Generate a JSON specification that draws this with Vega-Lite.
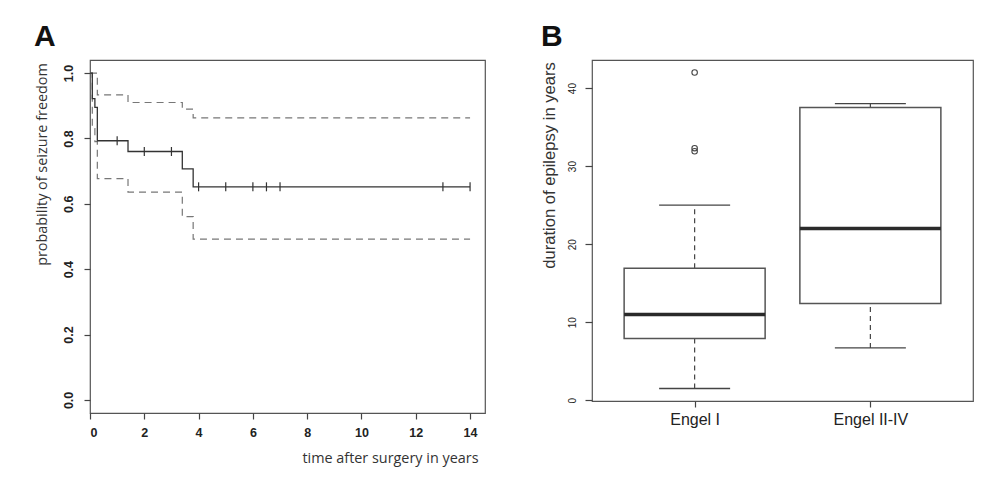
{
  "$schema": "https://vega.github.io/schema/vega-lite/v6.json",
  "background": "white",
  "padding": {"left": 33, "top": 21, "right": 5, "bottom": 5},
  "spacing": 54,
  "config": {
    "view": {"stroke": "#555", "strokeWidth": 1.2},
    "axis": {"domain": false, "grid": false, "tickColor": "#444", "tickWidth": 1.2, "labelColor": "#222", "titleColor": "#333", "titleFontWeight": "normal"}
  },
  "datasets": {
    "km": [
      {"series": "est", "t": 0, "s": 1.0},
      {"series": "est", "t": 0.085, "s": 0.922},
      {"series": "est", "t": 0.18, "s": 0.895},
      {"series": "est", "t": 0.27, "s": 0.793},
      {"series": "est", "t": 1.4, "s": 0.760},
      {"series": "est", "t": 3.4, "s": 0.707},
      {"series": "est", "t": 3.8, "s": 0.652},
      {"series": "est", "t": 14, "s": 0.652}
    ],
    "ci": [
      {"series": "upper", "t": 0, "s": 1.0},
      {"series": "upper", "t": 0.27, "s": 0.933},
      {"series": "upper", "t": 1.4, "s": 0.910},
      {"series": "upper", "t": 3.4, "s": 0.890},
      {"series": "upper", "t": 3.8, "s": 0.863},
      {"series": "upper", "t": 14, "s": 0.863},
      {"series": "lower", "t": 0, "s": 1.0},
      {"series": "lower", "t": 0.085, "s": 0.83},
      {"series": "lower", "t": 0.18, "s": 0.79},
      {"series": "lower", "t": 0.27, "s": 0.677},
      {"series": "lower", "t": 1.4, "s": 0.636},
      {"series": "lower", "t": 3.4, "s": 0.561},
      {"series": "lower", "t": 3.8, "s": 0.492},
      {"series": "lower", "t": 14, "s": 0.492}
    ],
    "censor": [
      {"t": 1, "s": 0.793},
      {"t": 2, "s": 0.760},
      {"t": 3, "s": 0.760},
      {"t": 4, "s": 0.652},
      {"t": 5, "s": 0.652},
      {"t": 6, "s": 0.652},
      {"t": 6.5, "s": 0.652},
      {"t": 7, "s": 0.652},
      {"t": 13, "s": 0.652},
      {"t": 14, "s": 0.652}
    ],
    "box": [
      {"group": "Engel I", "lo": 1.5, "q1": 7.9, "median": 11.0, "q3": 16.9, "hi": 25.0},
      {"group": "Engel II-IV", "lo": 6.7, "q1": 12.4, "median": 22.0, "q3": 37.5, "hi": 38.0}
    ],
    "outliers": [
      {"group": "Engel I", "value": 42.0},
      {"group": "Engel I", "value": 32.3},
      {"group": "Engel I", "value": 31.9}
    ]
  },
  "hconcat": [
    {
      "width": 395,
      "height": 353,
      "title": {"text": "A", "anchor": "start", "frame": "bounds", "font": "Liberation Sans", "fontSize": 30, "fontWeight": "bold", "color": "#111", "offset": 8},
      "layer": [
        {
          "data": {"name": "ci"},
          "mark": {"type": "line", "interpolate": "step-after", "strokeDash": [7, 5], "color": "#777", "strokeWidth": 1.2},
          "encoding": {
            "x": {"field": "t", "type": "quantitative", "scale": {"domain": [0, 14.55], "nice": false, "zero": false},
              "axis": {"title": "time after surgery in years", "values": [0, 2, 4, 6, 8, 10, 12, 14], "tickSize": 6, "labelFont": "Liberation Sans", "labelFontWeight": "bold", "labelFontSize": 12.5, "labelPadding": 7, "titleFont": "Open Sans", "titleFontSize": 14.4, "titleAlign": "right", "titleAnchor": "end", "titleX": 388, "titleY": 49, "titleBaseline": "alphabetic"}},
            "y": {"field": "s", "type": "quantitative", "scale": {"domain": [-0.04, 1.04], "nice": false, "zero": false},
              "axis": {"title": "probability of seizure freedom", "values": [0, 0.2, 0.4, 0.6, 0.8, 1.0], "format": ".1f", "tickSize": 6, "labelAngle": 270, "labelAlign": "center", "labelBaseline": "bottom", "labelFont": "Liberation Sans", "labelFontWeight": "bold", "labelFontSize": 12.5, "labelPadding": 9, "titleFont": "Open Sans", "titleFontSize": 14.4, "titleAngle": 270, "titleAlign": "center", "titleBaseline": "middle", "titleX": -48, "titleY": 104}},
            "detail": {"field": "series"}
          }
        },
        {
          "data": {"name": "km"},
          "mark": {"type": "line", "interpolate": "step-after", "color": "#333", "strokeWidth": 1.3},
          "encoding": {
            "x": {"field": "t", "type": "quantitative", "title": "time after surgery in years"},
            "y": {"field": "s", "type": "quantitative", "title": "probability of seizure freedom"}
          }
        },
        {
          "data": {"name": "censor"},
          "mark": {"type": "tick", "orient": "vertical", "color": "#333", "opacity": 1, "size": 9, "thickness": 1.2},
          "encoding": {
            "x": {"field": "t", "type": "quantitative", "title": "time after surgery in years"},
            "y": {"field": "s", "type": "quantitative", "title": "probability of seizure freedom"}
          }
        }
      ]
    },
    {
      "width": 381,
      "height": 341,
      "title": {"text": "B", "anchor": "start", "frame": "bounds", "font": "Liberation Sans", "fontSize": 30, "fontWeight": "bold", "color": "#111", "offset": 8},
      "layer": [
        {
          "data": {"name": "box"},
          "mark": {"type": "rule", "strokeDash": [5, 4], "color": "#444", "strokeWidth": 1.2},
          "encoding": {
            "x": {"field": "group", "type": "nominal", "scale": {"type": "point", "padding": 0.584},
              "axis": {"title": null, "labelAngle": 0, "labelFont": "Liberation Sans", "labelFontSize": 16, "labelColor": "#222", "tickSize": 6, "labelPadding": 4}},
            "y": {"field": "q3", "type": "quantitative", "scale": {"domain": [-0.1, 43.6], "nice": false, "zero": false},
              "axis": {"title": "duration of epilepsy in years", "values": [0, 10, 20, 30, 40], "tickSize": 7, "labelAngle": 270, "labelAlign": "center", "labelBaseline": "bottom", "labelFont": "Liberation Sans", "labelFontSize": 10, "labelPadding": 8, "titleFont": "Liberation Sans", "titleFontSize": 16.6, "titleAngle": 270, "titleAlign": "center", "titleBaseline": "middle", "titleX": -43, "titleY": 105}},
            "y2": {"field": "hi"}
          }
        },
        {
          "data": {"name": "box"},
          "mark": {"type": "rule", "strokeDash": [5, 4], "color": "#444", "strokeWidth": 1.2},
          "encoding": {
            "x": {"field": "group", "type": "nominal"},
            "y": {"field": "lo", "type": "quantitative", "title": "duration of epilepsy in years"},
            "y2": {"field": "q1"}
          }
        },
        {
          "data": {"name": "box"},
          "mark": {"type": "tick", "color": "#444", "opacity": 1, "size": 71, "thickness": 1.3},
          "encoding": {
            "x": {"field": "group", "type": "nominal"},
            "y": {"field": "hi", "type": "quantitative", "title": "duration of epilepsy in years"}
          }
        },
        {
          "data": {"name": "box"},
          "mark": {"type": "tick", "color": "#444", "opacity": 1, "size": 71, "thickness": 1.3},
          "encoding": {
            "x": {"field": "group", "type": "nominal"},
            "y": {"field": "lo", "type": "quantitative", "title": "duration of epilepsy in years"}
          }
        },
        {
          "data": {"name": "box"},
          "mark": {"type": "bar", "size": 141, "fill": "white", "stroke": "#555", "strokeWidth": 1.5, "opacity": 1},
          "encoding": {
            "x": {"field": "group", "type": "nominal"},
            "y": {"field": "q1", "type": "quantitative", "title": "duration of epilepsy in years"},
            "y2": {"field": "q3"}
          }
        },
        {
          "data": {"name": "box"},
          "mark": {"type": "tick", "color": "#2a2a2a", "opacity": 1, "size": 141, "thickness": 3.5},
          "encoding": {
            "x": {"field": "group", "type": "nominal"},
            "y": {"field": "median", "type": "quantitative", "title": "duration of epilepsy in years"}
          }
        },
        {
          "data": {"name": "outliers"},
          "mark": {"type": "point", "shape": "circle", "filled": false, "color": "#444", "opacity": 1, "size": 30, "strokeWidth": 1.1},
          "encoding": {
            "x": {"field": "group", "type": "nominal"},
            "y": {"field": "value", "type": "quantitative", "title": "duration of epilepsy in years"}
          }
        }
      ]
    }
  ]
}
